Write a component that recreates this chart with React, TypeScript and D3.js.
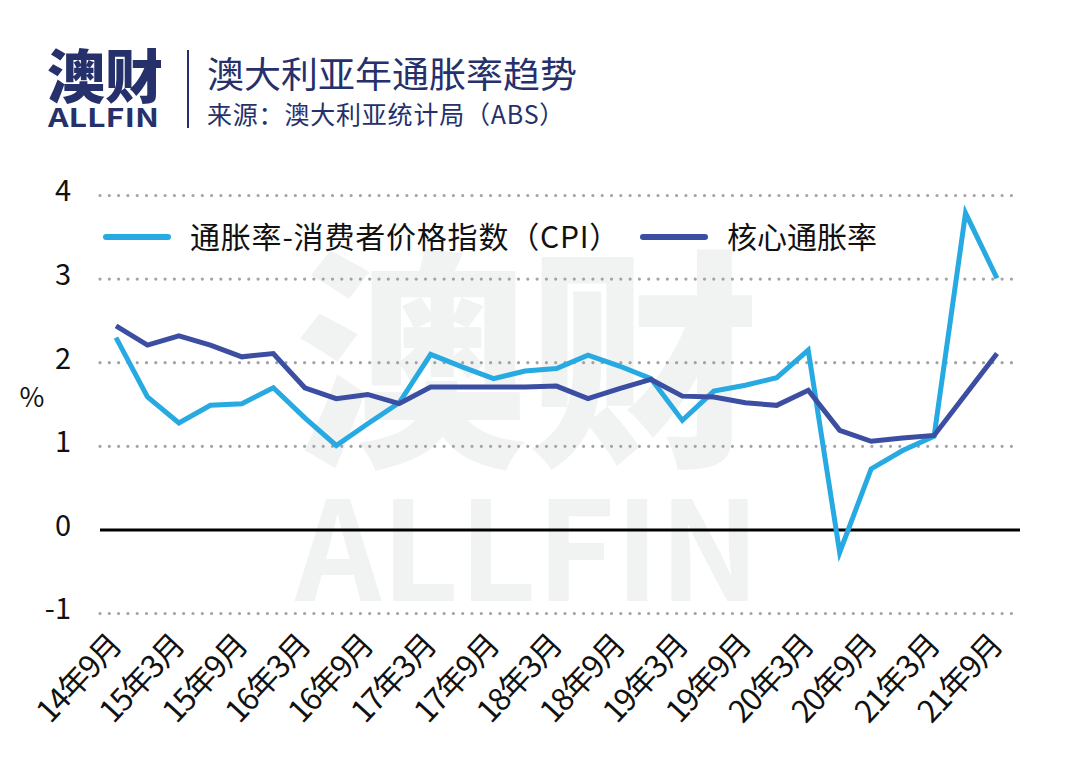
import React from "react";
import { line, scaleLinear, scalePoint } from "d3";

// quarterly, Sep 2014 .. Sep 2021
const quarters = [
  "14年9月", "14年12月",
  "15年3月", "15年6月", "15年9月", "15年12月",
  "16年3月", "16年6月", "16年9月", "16年12月",
  "17年3月", "17年6月", "17年9月", "17年12月",
  "18年3月", "18年6月", "18年9月", "18年12月",
  "19年3月", "19年6月", "19年9月", "19年12月",
  "20年3月", "20年6月", "20年9月", "20年12月",
  "21年3月", "21年6月", "21年9月"
];

const xTickLabels = [
  "14年9月", "15年3月", "15年9月", "16年3月", "16年9月", "17年3月", "17年9月",
  "18年3月", "18年9月", "19年3月", "19年9月", "20年3月", "20年9月", "21年3月", "21年9月"
];

const cpi = [
  2.3, 1.59, 1.28, 1.49, 1.51, 1.7, 1.34, 1.01, 1.27, 1.52,
  2.1, 1.95, 1.81, 1.9, 1.93, 2.09, 1.96, 1.81, 1.31, 1.66,
  1.73, 1.82, 2.15, -0.27, 0.73, 0.95, 1.12, 3.79, 3.01
];

const core = [
  2.44, 2.21, 2.32, 2.21, 2.07, 2.11, 1.7, 1.57, 1.62, 1.51,
  1.71, 1.71, 1.71, 1.71, 1.72, 1.57, 1.69, 1.8, 1.6, 1.59,
  1.52, 1.49, 1.67, 1.19, 1.06, 1.1, 1.13, 1.62, 2.11
];

const yTicks = [-1, 0, 1, 2, 3, 4];
const seriesNames = ["通胀率-消费者价格指数（CPI）", "核心通胀率"];
const seriesColors = ["#27a9e1", "#3b4ea2"];

const FONT = "'Noto Sans CJK SC', 'Noto Sans', sans-serif";
const NAVY = "#26306b";

export default function App() {
  const WIDTH = 1080;
  const HEIGHT = 767;
  const GRID_LEFT = 100;
  const GRID_RIGHT = 1020;

  const xScale = scalePoint<string>().domain(quarters).range([116, 997]);
  const yScale = scaleLinear().domain([-1, 4]).range([613.5, 195.5]);

  const lineFn = line<number>()
    .x((d, i) => xScale(quarters[i])!)
    .y(d => yScale(d));

  const series = [cpi, core];

  return (
    <svg
      width={WIDTH}
      height={HEIGHT}
      style={{ position: "absolute", left: 0, top: 0, background: "#fff" }}
      fontFamily={FONT}
    >
      <rect width={WIDTH} height={HEIGHT} fill="#fff" />

      {/* header */}
      <text x={47} y={98} fontSize={58} fontWeight={900} fill={NAVY} textLength={116} lengthAdjust="spacingAndGlyphs">
        澳财
      </text>
      <text x={48} y={127} fontSize={26} fontWeight={700} fill={NAVY} textLength={111} lengthAdjust="spacingAndGlyphs">
        ALLFIN
      </text>
      <line x1={188} x2={188} y1={50} y2={128} stroke={NAVY} strokeWidth={2} />
      <text x={207} y={88} fontSize={36} fill={NAVY} textLength={370} lengthAdjust="spacingAndGlyphs">
        澳大利亚年通胀率趋势
      </text>
      <text x={207} y={124} fontSize={25} fill={NAVY} letterSpacing={0.8}>
        来源：澳大利亚统计局（ABS）
      </text>

      {/* watermark */}
      <text x={295} y={448} fontSize={232} fontWeight={900} fill="#f1f2f2" textLength={465} lengthAdjust="spacingAndGlyphs">
        澳财
      </text>
      <text x={295} y={601} fontSize={138} fontWeight={700} fill="#f1f2f2" textLength={465} lengthAdjust="spacingAndGlyphs">
        ALLFIN
      </text>

      {/* grid + y axis */}
      {yTicks.map(v => (
        <g key={v}>
          {v === 0 ? (
            <line x1={GRID_LEFT} x2={GRID_RIGHT} y1={yScale(v)} y2={yScale(v)} stroke="#000" strokeWidth={3} />
          ) : (
            <line
              x1={GRID_LEFT}
              x2={GRID_RIGHT}
              y1={yScale(v)}
              y2={yScale(v)}
              stroke="#a3a3a3"
              strokeWidth={3.2}
              strokeLinecap="round"
              strokeDasharray="0 9.3"
            />
          )}
          <text x={71} y={yScale(v) - 4} dy="0.34em" fontSize={29} textAnchor="end" fill="#111">
            {v}
          </text>
        </g>
      ))}
      <text x={32} y={398} dy="0.32em" fontSize={27} textAnchor="middle" fill="#111">%</text>

      {/* x axis labels */}
      {xTickLabels.map(t => (
        <text
          key={t}
          transform={`translate(${xScale(t)! + 7}, 647) rotate(-47)`}
          fontSize={31}
          textAnchor="end"
          fill="#111"
          letterSpacing={-1.5}
        >
          {t}
        </text>
      ))}

      {/* series */}
      {series.map((s, i) => (
        <path key={i} d={lineFn(s)!} fill="none" stroke={seriesColors[i]} strokeWidth={5} strokeLinejoin="miter" />
      ))}

      {/* legend */}
      <g>
        <line x1={106} x2={168} y1={237} y2={237} stroke={seriesColors[0]} strokeWidth={6} strokeLinecap="round" />
        <text x={190} y={237} dy="0.36em" fontSize={30} fill="#111" letterSpacing={0.8}>
          {seriesNames[0]}
        </text>
        <line x1={643} x2={705} y1={237} y2={237} stroke={seriesColors[1]} strokeWidth={6} strokeLinecap="round" />
        <text x={727} y={237} dy="0.36em" fontSize={30} fill="#111">{seriesNames[1]}</text>
      </g>
    </svg>
  );
}
